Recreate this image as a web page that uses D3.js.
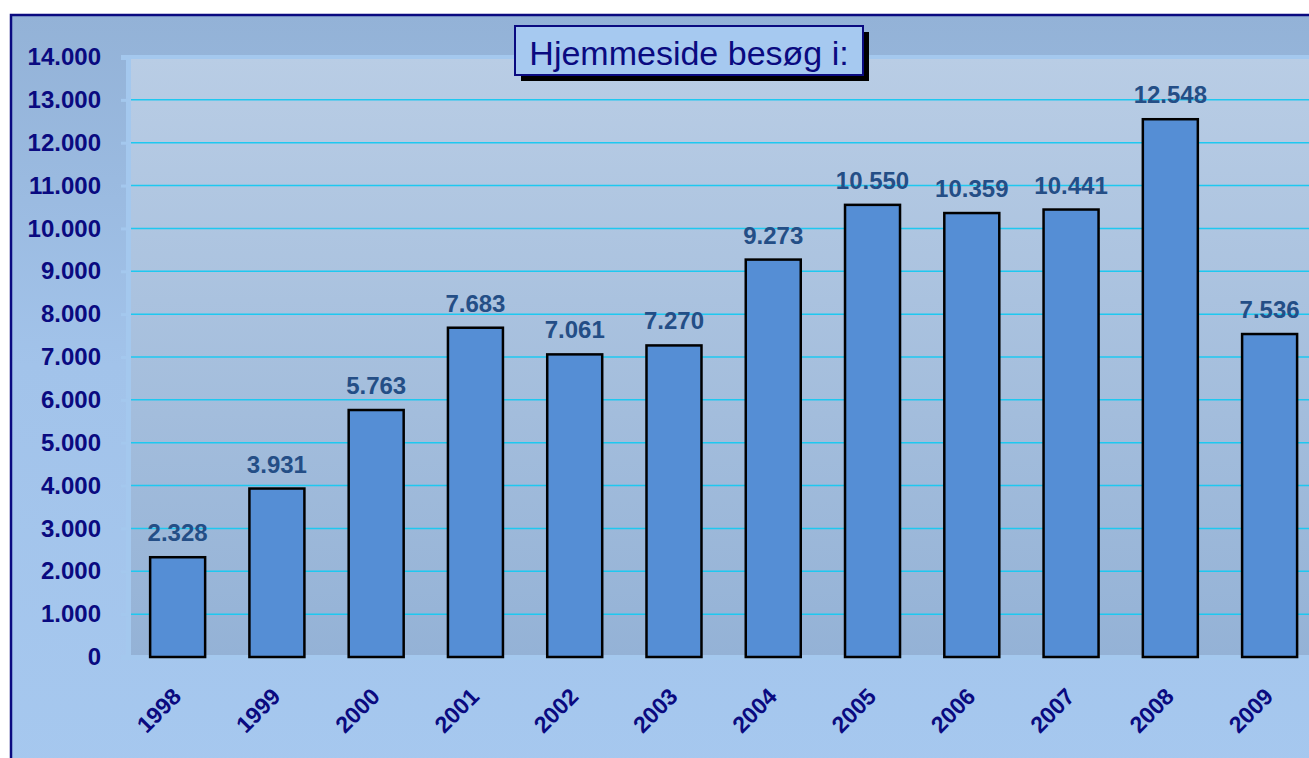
<!DOCTYPE html>
<html>
<head>
<meta charset="utf-8">
<script src="https://cdn.jsdelivr.net/npm/d3@7/dist/d3.min.js"></script>
<style>
  body { margin: 0; background: #fff; }
  svg { display: block; }
</style>
</head>
<body>
<svg id="chart"></svg>
<script>
var years = ['1998', '1999', '2000', '2001', '2002', '2003', '2004', '2005', '2006', '2007', '2008', '2009'];
var visits = [2328, 3931, 5763, 7683, 7061, 7270, 9273, 10550, 10359, 10441, 12548, 7536];
var yTicks = [0, 1000, 2000, 3000, 4000, 5000, 6000, 7000, 8000, 9000, 10000, 11000, 12000, 13000, 14000];
var title = 'Hjemmeside besøg i:';

var width = 1309, height = 758;
var svg = d3.select('#chart').attr('width', width).attr('height', height);
var defs = svg.append('defs');

var bgGrad = defs.append('linearGradient').attr('id', 'bg').attr('x1', 0).attr('y1', 0).attr('x2', 0).attr('y2', 1);
bgGrad.append('stop').attr('offset', '0%').attr('stop-color', '#93b2d7');
bgGrad.append('stop').attr('offset', '45%').attr('stop-color', '#a2c3ea');
bgGrad.append('stop').attr('offset', '100%').attr('stop-color', '#a6c8ef');

var plotGrad = defs.append('linearGradient').attr('id', 'plot').attr('x1', 0).attr('y1', 0).attr('x2', 0).attr('y2', 1);
plotGrad.append('stop').attr('offset', '0%').attr('stop-color', '#b9cde5');
plotGrad.append('stop').attr('offset', '100%').attr('stop-color', '#94b2d6');

// outer frame
svg.append('rect')
    .attr('x', 11).attr('y', 15)
    .attr('width', width + 20).attr('height', height + 20)
    .attr('fill', 'url(#bg)')
    .attr('stroke', '#0a0a80')
    .attr('stroke-width', 2.5);

var plotLeft = 128, plotTop = 57, plotBottom = 657;
var step = 99.27;
var x = d3.scaleBand().domain(years).range([plotLeft, plotLeft + step * years.length]).paddingInner(0.446).paddingOuter(0.223);
var y = d3.scaleLinear().domain([0, 14000]).range([plotBottom, plotTop]);

// plot area
svg.append('rect')
    .attr('x', plotLeft).attr('y', plotTop)
    .attr('width', width - plotLeft + 10).attr('height', plotBottom - plotTop)
    .attr('fill', 'url(#plot)')
    .attr('stroke', '#a4c8ee')
    .attr('stroke-width', 4);

// gridlines
svg.append('g').selectAll('line')
    .data(yTicks.filter(function(d) { return d > 0 && d < 14000; }))
    .enter().append('line')
    .attr('x1', plotLeft + 2).attr('x2', width)
    .attr('y1', function(d) { return y(d); })
    .attr('y2', function(d) { return y(d); })
    .attr('stroke', '#1ec8f0')
    .attr('stroke-width', 1.5);

// y axis
var yAxis = svg.append('g')
    .attr('transform', 'translate(' + plotLeft + ',0)')
    .call(d3.axisLeft(y).tickValues(yTicks).tickSize(7).tickPadding(20)
        .tickFormat(function(d) { return d3.format(',')(d).replace(/,/g, '.'); }));
yAxis.select('.domain').attr('stroke', '#a4c8ee').attr('stroke-width', 5);
yAxis.selectAll('.tick line').attr('stroke', '#a4c8ee').attr('stroke-width', 3);
yAxis.selectAll('text')
    .attr('fill', '#0a0a80')
    .style('font', 'bold 24px Arial, "Liberation Sans", sans-serif');

// x axis
var xAxis = svg.append('g')
    .attr('transform', 'translate(0,' + plotBottom + ')')
    .call(d3.axisBottom(x).tickSize(0).tickPadding(0));
xAxis.select('.domain').attr('stroke', '#a4c8ee').attr('stroke-width', 5);
xAxis.selectAll('text')
    .attr('fill', '#0a0a80')
    .attr('text-anchor', 'end')
    .attr('dy', 0)
    .attr('transform', 'translate(5,41) rotate(-45)')
    .style('font', 'bold 23px Arial, "Liberation Sans", sans-serif');

// bars
svg.append('g').selectAll('rect')
    .data(visits)
    .enter().append('rect')
    .attr('x', function(d, i) { return x(years[i]); })
    .attr('y', function(d) { return y(d); })
    .attr('width', x.bandwidth())
    .attr('height', function(d) { return plotBottom - y(d); })
    .attr('fill', '#558ed5')
    .attr('stroke', '#000')
    .attr('stroke-width', 2.5);

// value labels
svg.append('g').selectAll('text')
    .data(visits)
    .enter().append('text')
    .attr('x', function(d, i) { return x(years[i]) + x.bandwidth() / 2; })
    .attr('y', function(d) { return y(d) - 16; })
    .attr('text-anchor', 'middle')
    .attr('fill', '#244e86')
    .style('font', 'bold 24px Arial, "Liberation Sans", sans-serif')
    .text(function(d) { return d3.format(',')(d).replace(/,/g, '.'); });

// title box
var tb = svg.append('g').attr('transform', 'translate(515,26)');
tb.append('rect').attr('x', 6).attr('y', 6).attr('width', 348).attr('height', 49).attr('fill', '#000');
tb.append('rect').attr('x', 0).attr('y', 0).attr('width', 348).attr('height', 49)
    .attr('fill', '#a6c9f0').attr('stroke', '#0a0a80').attr('stroke-width', 2);
tb.append('text')
    .attr('x', 174).attr('y', 39)
    .attr('text-anchor', 'middle')
    .attr('fill', '#0a0a80')
    .style('font', '34px Arial, "Liberation Sans", sans-serif')
    .text(title);
</script>
</body>
</html>
